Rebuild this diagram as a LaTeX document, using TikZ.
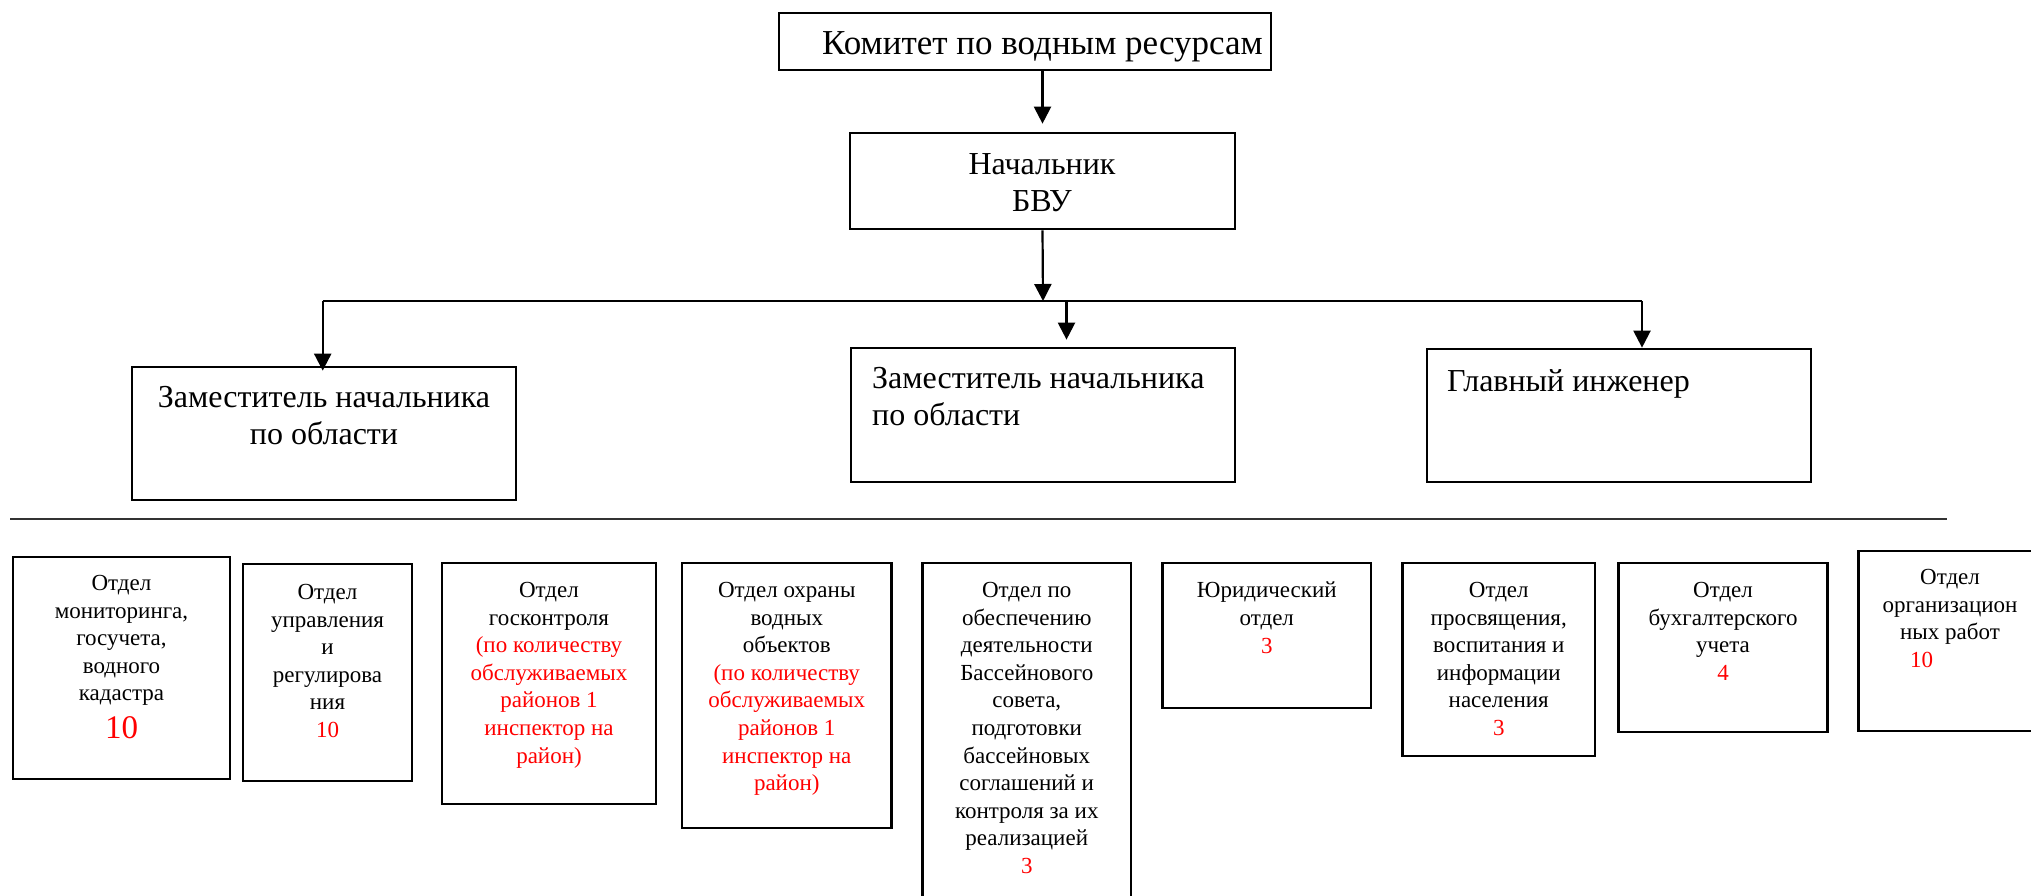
\documentclass[tikz,border=0pt]{standalone}
\usepackage{fontspec}
\setmainfont{Liberation Serif}
\usetikzlibrary{arrows.meta}
\begin{document}
\begin{tikzpicture}[x=1pt,y=-1pt,
  box/.style={draw, line width=2.7pt, inner sep=0pt, rectangle},
  conn/.style={line width=2.2pt},
  arr/.style={conn, -{Triangle[length=17pt,width=17pt]}},
  bigtxt/.style={font=\fontsize{32}{37}\selectfont, inner sep=0pt},
  smalltxt/.style={font=\fontsize{23}{27.6}\selectfont, align=center, anchor=north, inner sep=0pt},
]
\useasboundingbox (0,0) rectangle (2031,895);
\clip (0,0) rectangle (2031,895);

% upper level boxes
\node[box, minimum width=492pt, minimum height=57pt] (top) at (1025,41.5) {};
\node[bigtxt, font=\fontsize{35}{40}\selectfont, anchor=base] (ttop) at (1042.5,54) {Комитет по водным ресурсам};

\node[box, minimum width=385pt, minimum height=96pt] (bvu) at (1042.5,181) {};
\node[bigtxt, align=center, anchor=north] (tbvu) at (1042,153) {Начальник\\БВУ};

\node[box, minimum width=384pt, minimum height=133pt] (dep1) at (324,433.5) {};
\node[bigtxt, align=center, anchor=north] (tdep1) at (324,386.5) {Заместитель начальника\\по области};

\node[box, minimum width=384pt, minimum height=134pt] (dep2) at (1043,415) {};
\node[bigtxt, align=left, anchor=north west] (tdep2) at (872,367.5) {Заместитель начальника\\по области};

\node[box, minimum width=384pt, minimum height=133pt] (eng) at (1619,415.5) {};
\node[bigtxt, align=left, anchor=north west] (teng) at (1447,369) {Главный инженер};

% connectors
\coordinate (bus) at (1043,301);
\coordinate (busL) at (322.7,301);
\coordinate (busM) at (1066.5,301);
\coordinate (busR) at (1642,301);
\draw[arr, shorten >=8pt] (top.south -| bvu.north) -- (bvu.north);
\draw[arr] (bvu.south) -- (bus);
\draw[conn] (busL) -- (busR);
\draw[arr, shorten >=-5pt] (busL) -- (busL |- dep1.north);
\draw[arr, shorten >=7pt] (busM) -- (busM |- dep2.north);
\draw[arr] (busR) -- (busR |- eng.north);

% separator
\coordinate (sepL) at (10,519);
\coordinate (sepR) at (1947,519);
\draw[line width=1.6pt, black!80] (sepL) -- (sepR);

% bottom boxes
\node[box, minimum width=217pt, minimum height=222pt] (b1) at (121.5,668) {};
\node[smalltxt] (t1) at (121.5,575) {Отдел\\мониторинга,\\госучета,\\водного\\кадастра\\[10pt]{\fontsize{33}{34}\selectfont\color{red}10}};

\node[box, minimum width=169pt, minimum height=217pt] (b2) at (327.5,672.5) {};
\node[smalltxt] (t2) at (327.5,584) {Отдел\\управления\\и\\регулирова\\ния\\{\color{red}10}};

\node[box, minimum width=214pt, minimum height=241pt] (b3) at (549,683.5) {};
\node[smalltxt] (t3) at (549,582) {Отдел\\госконтроля\\{\color{red}(по количеству}\\{\color{red}обслуживаемых}\\{\color{red}районов 1}\\{\color{red}инспектор на}\\{\color{red}район)}};

\node[box, minimum width=209.5pt, minimum height=265pt] (b4) at (786.75,695.5) {};
\node[smalltxt] (t4) at (786.75,582) {Отдел охраны\\водных\\объектов\\{\color{red}(по количеству}\\{\color{red}обслуживаемых}\\{\color{red}районов 1}\\{\color{red}инспектор на}\\{\color{red}район)}};

\node[box, minimum width=208.5pt, minimum height=352pt] (b5) at (1026.75,739) {};
\node[smalltxt] (t5) at (1026.75,582) {Отдел по\\обеспечению\\деятельности\\Бассейнового\\совета,\\подготовки\\бассейновых\\соглашений и\\контроля за их\\реализацией\\{\color{red}3}};

\node[box, minimum width=208.5pt, minimum height=145pt] (b6) at (1266.75,635.5) {};
\node[smalltxt] (t6) at (1266.75,582) {Юридический\\отдел\\{\color{red}3}};

\node[box, minimum width=192.5pt, minimum height=193pt] (b7) at (1498.75,659.5) {};
\node[smalltxt] (t7) at (1498.75,582) {Отдел\\просвящения,\\воспитания и\\информации\\населения\\{\color{red}3}};

\node[box, minimum width=209pt, minimum height=169pt] (b8) at (1723,647.5) {};
\node[smalltxt] (t8) at (1723,582) {Отдел\\бухгалтерского\\учета\\{\color{red}4}};

\node[box, minimum width=201.5pt, minimum height=180pt] (b9) at (1959.25,641) {};
\node[smalltxt] (t9) at (1950,569) {Отдел\\организацион\\ных работ\\{\color{red}10}\hspace*{57pt}};
\end{tikzpicture}
\end{document}
